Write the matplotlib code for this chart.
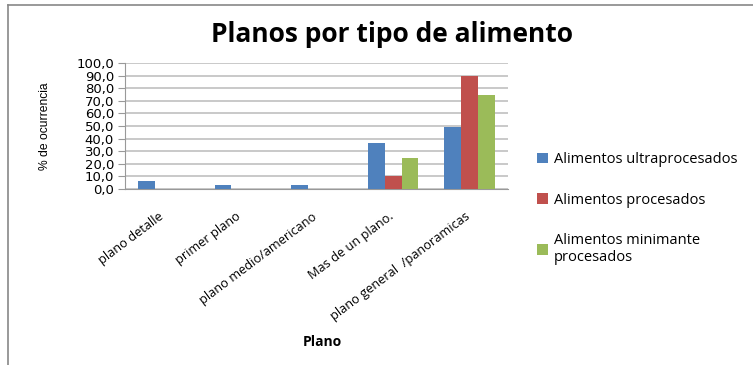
import numpy as np
import matplotlib.pyplot as plt
from matplotlib.lines import Line2D
from matplotlib.transforms import ScaledTranslation

categorias = ['plano detalle', 'primer plano', 'plano medio/americano',
              'Mas de un plano.', 'plano general  /panoramicas']
ultraprocesados = [6.5, 3.0, 3.5, 36.5, 49.5]
procesados = [0.0, 0.0, 0.0, 10.0, 90.0]
minimamente = [0.0, 0.0, 0.0, 25.0, 75.0]
series = ['Alimentos ultraprocesados', 'Alimentos procesados',
          'Alimentos minimante\nprocesados']
colores = ['#4F81BD', '#C0504D', '#9BBB59']

plt.rcParams['font.family'] = ['Open Sans', 'DejaVu Sans']

fig = plt.figure(figsize=(7.53, 3.65), dpi=100)
ax = fig.add_axes([125 / 753, 1 - 189 / 365, 383 / 753, 126 / 365])

x = np.arange(len(categorias))
w = 0.22
for i, (vals, nombre, c) in enumerate(zip([ultraprocesados, procesados, minimamente],
                                          series, colores)):
    ax.bar(x + (i - 1) * w, vals, w, color=c, label=nombre, zorder=3)

ax.set_xlim(-0.5, len(categorias) - 0.5)
ax.set_ylim(0, 100)
ax.set_yticks(np.arange(0, 101, 10))
ax.set_yticklabels([f'{v:.1f}'.replace('.', ',') for v in range(0, 101, 10)],
                   fontsize=9.5, family='DejaVu Sans')
ax.set_xticks(x)
ax.set_xticklabels([])
ax.tick_params(axis='x', length=0)
ax.tick_params(axis='y', length=5, color='#999999', pad=3)

# etiquetas de categoria inclinadas, terminan sobre el centro de cada grupo
desp = ScaledTranslation(-5 / 100, -21 / 100, fig.dpi_scale_trans)
for xi, cat in zip(x, categorias):
    ax.text(xi, 0, cat, transform=ax.get_xaxis_transform() + desp,
            rotation=37, rotation_mode='anchor', ha='right', va='top',
            fontsize=9.2)

ax.grid(axis='y', color='#C0C0C0', linewidth=1.2, zorder=0)
for s in ['top', 'right']:
    ax.spines[s].set_visible(False)
ax.spines['left'].set_color('#999999')
ax.spines['bottom'].set_color('#999999')

fig.text(45 / 753, 1 - 126 / 365, '% de ocurrencia', rotation=90, ha='center',
         va='center', fontsize=8.7, family=['Liberation Sans', 'DejaVu Sans'])
fig.text(322 / 753, 1 - 342 / 365, 'Plano', ha='center', va='center', fontsize=10,
         fontweight='bold')
fig.text(392 / 753, 1 - 34 / 365, 'Planos por tipo de alimento', ha='center',
         va='center', fontsize=19, fontweight='bold')

fig.legend(loc='upper left', bbox_to_anchor=(537 / 753, 1 - 152 / 365),
           bbox_transform=fig.transFigure, frameon=False,
           fontsize=10.5, handlelength=0.75, handleheight=0.75, handletextpad=0.4,
           labelspacing=1.75, borderaxespad=0, borderpad=0)

# borde del grafico
fig.add_artist(Line2D([8 / 753, 8 / 753], [0, 1 - 5 / 365], color='#888888',
                      linewidth=1.2, transform=fig.transFigure))
fig.add_artist(Line2D([8 / 753, 1], [1 - 5 / 365, 1 - 5 / 365], color='#888888',
                      linewidth=1.2, transform=fig.transFigure))

fig.savefig('out.png', dpi=100)
